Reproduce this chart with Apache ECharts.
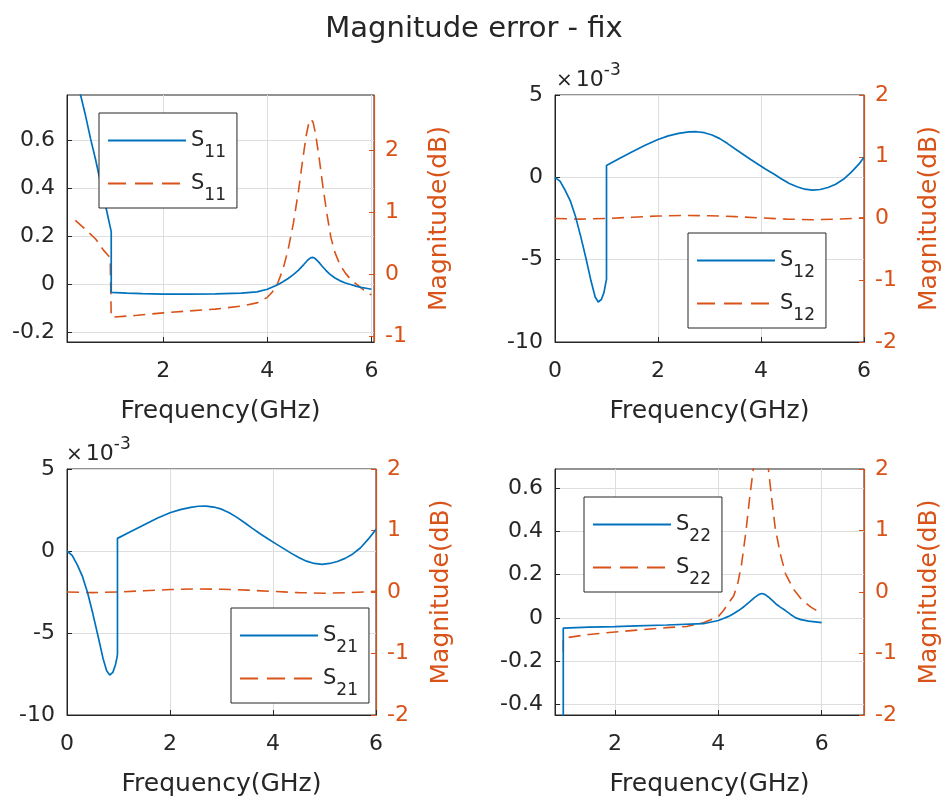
<!DOCTYPE html>
<html>
<head>
<meta charset="utf-8">
<title>Magnitude error - fix</title>
<script src="https://cdn.jsdelivr.net/npm/echarts@6.0.0/dist/echarts.min.js"></script>
<style>
  html, body { margin: 0; padding: 0; background: #fff; }
  #chart { width: 948px; height: 805px; }
</style>
</head>
<body>
<div id="chart"></div>
<script>
// frequency in GHz. "Lin" = linear magnitude error (left axis), "Db" = error in dB (right axis)
// S12 / S21 linear values are in units of 1e-3, as the axis shows

const s11LinFreq = [0.15, 0.3, 0.4, 0.5, 0.6, 0.7, 0.8, 0.9, 0.95, 0.98, 1.0, 1.0, 1.3, 1.6, 2.0, 2.5, 3.0, 3.5, 3.8, 4.0, 4.1, 4.2, 4.3, 4.4, 4.5, 4.6, 4.7, 4.77, 4.83, 4.87, 4.92, 4.98, 5.05, 5.12, 5.2, 5.3, 5.4, 5.5, 5.6, 5.7, 5.8, 5.9, 6.0]
const s11Lin = [1.04, 0.90, 0.80, 0.71, 0.61, 0.52, 0.42, 0.32, 0.27, 0.24, 0.22, -0.033, -0.036, -0.038, -0.040, -0.040, -0.039, -0.036, -0.031, -0.020, -0.011, -0.001, 0.011, 0.025, 0.041, 0.060, 0.083, 0.100, 0.111, 0.113, 0.108, 0.095, 0.077, 0.060, 0.043, 0.027, 0.015, 0.006, 0.000, -0.007, -0.012, -0.016, -0.020]
const s11DbFreq = [0.31, 0.5, 0.7, 0.85, 0.98, 1.0, 1.0, 1.5, 2.0, 2.5, 3.0, 3.5, 3.8, 3.9, 4.0, 4.1, 4.2, 4.3, 4.4, 4.5, 4.6, 4.68, 4.75, 4.8, 4.84, 4.88, 4.93, 5.0, 5.07, 5.15, 5.22, 5.3, 5.4, 5.5, 5.6, 5.7, 5.85, 6.0]
const s11Db = [0.87, 0.73, 0.57, 0.39, 0.27, 0.25, -0.69, -0.66, -0.62, -0.59, -0.56, -0.51, -0.46, -0.42, -0.37, -0.28, -0.14, 0.08, 0.40, 0.82, 1.35, 1.85, 2.25, 2.45, 2.50, 2.45, 2.25, 1.85, 1.40, 0.95, 0.60, 0.35, 0.15, 0.02, -0.08, -0.15, -0.25, -0.33]

const s12LinFreq = [0, 0.1, 0.2, 0.3, 0.4, 0.5, 0.6, 0.7, 0.78, 0.84, 0.9, 0.95, 0.98, 1.0, 1.0, 1.25, 1.5, 1.75, 2.0, 2.2, 2.4, 2.6, 2.75, 2.9, 3.05, 3.2, 3.35, 3.5, 3.65, 3.8, 3.95, 4.1, 4.25, 4.4, 4.55, 4.7, 4.85, 5.0, 5.15, 5.3, 5.45, 5.6, 5.75, 5.9, 6.0]
const s12Lin = [0, -0.25, -0.8, -1.45, -2.4, -3.6, -4.9, -6.3, -7.27, -7.57, -7.42, -7.0, -6.5, -6.2, 0.72, 1.15, 1.56, 1.95, 2.3, 2.52, 2.67, 2.76, 2.77, 2.71, 2.57, 2.35, 2.05, 1.72, 1.4, 1.08, 0.78, 0.48, 0.2, -0.1, -0.37, -0.57, -0.72, -0.78, -0.74, -0.62, -0.42, -0.12, 0.3, 0.8, 1.22]
const s12DbFreq = [0, 0.5, 1.0, 1.5, 2.0, 2.5, 3.0, 3.5, 4.0, 4.5, 5.0, 5.5, 6.0]
const s12Db = [0.0, -0.01, 0.0, 0.02, 0.04, 0.05, 0.045, 0.03, 0.01, -0.01, -0.02, -0.01, 0.01]

const s21LinFreq = [0, 0.1, 0.2, 0.3, 0.4, 0.5, 0.6, 0.7, 0.77, 0.83, 0.89, 0.94, 0.97, 0.98, 0.98, 1.25, 1.5, 1.75, 2.0, 2.2, 2.4, 2.55, 2.7, 2.85, 3.0, 3.15, 3.3, 3.45, 3.6, 3.75, 3.9, 4.05, 4.2, 4.35, 4.5, 4.65, 4.8, 4.95, 5.1, 5.25, 5.4, 5.55, 5.7, 5.85, 6.0]
const s21Lin = [0, -0.27, -0.85, -1.55, -2.55, -3.8, -5.15, -6.55, -7.3, -7.56, -7.4, -6.95, -6.5, -6.3, 0.77, 1.2, 1.6, 2.0, 2.33, 2.52, 2.66, 2.73, 2.74, 2.68, 2.55, 2.33, 2.05, 1.72, 1.38, 1.05, 0.75, 0.45, 0.16, -0.13, -0.4, -0.62, -0.76, -0.81, -0.76, -0.64, -0.45, -0.18, 0.2, 0.72, 1.32]
const s21DbFreq = [0, 0.5, 1.0, 1.5, 2.0, 2.5, 3.0, 3.5, 4.0, 4.5, 5.0, 5.5, 6.0]
const s21Db = [0.0, -0.01, 0.0, 0.02, 0.04, 0.05, 0.045, 0.03, 0.01, -0.01, -0.02, -0.01, 0.01]

const s22LinFreq = [1.0, 1.0, 1.5, 2.0, 2.42, 3.0, 3.71, 4.0, 4.1, 4.2, 4.3, 4.4, 4.5, 4.6, 4.7, 4.78, 4.84, 4.9, 4.97, 5.05, 5.13, 5.2, 5.3, 5.4, 5.5, 5.6, 5.75, 6.0]
const s22Lin = [-1.0, -0.047, -0.043, -0.040, -0.037, -0.033, -0.027, -0.012, -0.003, 0.007, 0.020, 0.035, 0.053, 0.073, 0.094, 0.108, 0.113, 0.109, 0.097, 0.080, 0.062, 0.050, 0.034, 0.016, 0.000, -0.008, -0.015, -0.022]
const s22DbFreq = [1.0, 1.0, 1.5, 2.0, 2.42, 3.0, 3.39, 3.71, 4.0, 4.1, 4.2, 4.3, 4.38, 4.45, 4.53, 4.61, 4.68, 4.75, 4.82, 4.89, 4.97, 5.03, 5.1, 5.2, 5.3, 5.45, 5.62, 5.8, 5.98]
const s22Db = [-0.97, -0.75, -0.69, -0.65, -0.62, -0.58, -0.56, -0.5, -0.4, -0.3, -0.18, -0.06, 0.15, 0.45, 0.95, 1.55, 2.02, 2.35, 2.5, 2.35, 2.0, 1.55, 1.05, 0.62, 0.3, 0.05, -0.13, -0.25, -0.34]

const freqTicks = [2, 4, 6]
const freqTicksFull = [0, 2, 4, 6]
const s11LinTicks = [-0.2, 0, 0.2, 0.4, 0.6]
const milliTicks = [-10, -5, 0, 5]
const s22LinTicks = [-0.4, -0.2, 0, 0.2, 0.4, 0.6]
const s11DbTicks = [-1, 0, 1, 2]
const dbTicks = [-2, -1, 0, 1, 2]

const BLUE = '#0072BD'
const ORANGE = '#D95319'
const INK = '#262626'
const GRID = '#dedede'
const FONT = 'DejaVu Sans'

const zip = (xs, ys) => xs.map((x, i) => [x, ys[i]])

const panels = [
  {
    id: '11', lin: zip(s11LinFreq, s11Lin), db: zip(s11DbFreq, s11Db),
    grid: { left: 67, top: 95, width: 307, height: 247 },
    x: [0.15, 6.05], xTicks: freqTicks,
    yl: [-0.24, 0.79], ylTicks: s11LinTicks,
    yr: [-1.09, 2.89], yrTicks: s11DbTicks,
    legend: { left: 99, top: 113 },
  },
  {
    id: '12', lin: zip(s12LinFreq, s12Lin), db: zip(s12DbFreq, s12Db),
    grid: { left: 555, top: 95, width: 309, height: 247 },
    x: [0, 6], xTicks: freqTicksFull,
    yl: [-10, 5], ylTicks: milliTicks,
    yr: [-2, 2], yrTicks: dbTicks,
    legend: { left: 688, top: 233 },
    exponent: { left: 556, top: 62 },
  },
  {
    id: '21', lin: zip(s21LinFreq, s21Lin), db: zip(s21DbFreq, s21Db),
    grid: { left: 67, top: 469, width: 309, height: 246 },
    x: [0, 6], xTicks: freqTicksFull,
    yl: [-10, 5], ylTicks: milliTicks,
    yr: [-2, 2], yrTicks: dbTicks,
    legend: { left: 231, top: 608 },
    exponent: { left: 66, top: 436 },
  },
  {
    id: '22', lin: zip(s22LinFreq, s22Lin), db: zip(s22DbFreq, s22Db),
    grid: { left: 555, top: 469, width: 309, height: 246 },
    x: [0.84, 6.82], xTicks: freqTicks,
    yl: [-0.45, 0.69], ylTicks: s22LinTicks,
    yr: [-2, 2], yrTicks: dbTicks,
    legend: { left: 584, top: 497 },
  },
]

const tickLabel = { fontSize: 22, fontFamily: FONT }
const hiddenSymbol = { color: 'rgba(0,0,0,0)', borderColor: 'rgba(0,0,0,0)', borderWidth: 0, opacity: 0 }

const grids = []
const xAxes = []
const yAxes = []
const series = []
const legends = []
const graphics = []

panels.forEach((p, i) => {
  grids.push({ ...p.grid, show: true, borderColor: INK, borderWidth: 1, backgroundColor: '#fff', z: 0 })

  xAxes.push({
    type: 'value', gridIndex: i, min: p.x[0], max: p.x[1],
    axisLine: { show: true, onZero: false, lineStyle: { color: INK, width: 1 } },
    axisTick: { show: true, inside: true, length: 5, customValues: p.xTicks, lineStyle: { color: INK } },
    axisLabel: { ...tickLabel, color: INK, margin: 18, customValues: p.xTicks },
    splitLine: { show: true, lineStyle: { color: GRID, width: 1 } },
    name: 'Frequency(GHz)', nameLocation: 'middle', nameGap: 57,
    nameTextStyle: { fontSize: 25, fontFamily: FONT, color: INK },
  })

  yAxes.push({
    type: 'value', gridIndex: i, position: 'left', min: p.yl[0], max: p.yl[1],
    axisLine: { show: true, onZero: false, lineStyle: { color: INK, width: 1 } },
    axisTick: { show: true, inside: true, length: 5, customValues: p.ylTicks, lineStyle: { color: INK } },
    axisLabel: { ...tickLabel, color: INK, margin: 12, customValues: p.ylTicks },
    splitLine: { show: true, lineStyle: { color: GRID, width: 1 } },
  })

  yAxes.push({
    type: 'value', gridIndex: i, position: 'right', min: p.yr[0], max: p.yr[1],
    axisLine: { show: true, onZero: false, lineStyle: { color: ORANGE, width: 1.2 } },
    axisTick: { show: true, inside: true, length: 5, customValues: p.yrTicks, lineStyle: { color: ORANGE } },
    axisLabel: { ...tickLabel, color: ORANGE, margin: 11, customValues: p.yrTicks },
    splitLine: { show: false },
    name: 'Magnitude(dB)', nameLocation: 'middle', nameGap: 53, nameRotate: 90,
    nameTextStyle: { fontSize: 25, fontFamily: FONT, color: ORANGE },
  })

  const linName = 'S' + p.id + ' lin'
  const dbName = 'S' + p.id + ' dB'

  series.push({
    type: 'line', name: linName, xAxisIndex: i, yAxisIndex: 2 * i,
    data: p.lin, symbol: 'none', clip: true, z: 3,
    lineStyle: { color: BLUE, width: 1.7 }, itemStyle: { color: BLUE },
  })
  series.push({
    type: 'line', name: dbName, xAxisIndex: i, yAxisIndex: 2 * i + 1,
    data: p.db, symbol: 'none', clip: true, z: 2,
    lineStyle: { color: ORANGE, width: 1.6, type: [12, 7] }, itemStyle: { color: ORANGE },
  })

  legends.push({
    left: p.legend.left, top: p.legend.top, orient: 'vertical',
    data: [
      { name: linName, lineStyle: { type: 'solid' }, itemStyle: hiddenSymbol },
      { name: dbName, lineStyle: { type: [18, 9] }, itemStyle: hiddenSymbol },
    ],
    selectedMode: false,
    itemWidth: 78, itemHeight: 4, itemGap: 2,
    padding: [7, 11, 4, 8],
    borderColor: INK, borderWidth: 1, backgroundColor: '#fff',
    itemStyle: hiddenSymbol,
    formatter: () => '{s|S}{sub|' + p.id + '}',
    textStyle: {
      fontSize: 21, fontFamily: FONT, color: INK,
      rich: {
        s: { fontSize: 21, lineHeight: 22, fontFamily: FONT, color: INK },
        sub: { fontSize: 17, lineHeight: 18, fontFamily: FONT, color: INK, padding: [24, 0, 0, 0] },
      },
    },
  })

  if (p.exponent) {
    graphics.push({
      type: 'text', left: p.exponent.left, top: p.exponent.top, z: 10,
      style: {
        text: '{x|×}{n|10}{e|-3}',
        fill: INK,
        rich: {
          x: { fontSize: 20, fontFamily: FONT, fill: INK, padding: [0, 3, 0, 0] },
          n: { fontSize: 22, fontFamily: FONT, fill: INK },
          e: { fontSize: 17, fontFamily: FONT, fill: INK, padding: [0, 0, 20, 0] },
        },
      },
    })
  }
})

const chart = echarts.init(document.getElementById('chart'), null, { renderer: 'canvas' })
chart.setOption({
  animation: false,
  backgroundColor: '#fff',
  textStyle: { fontFamily: FONT },
  title: {
    text: 'Magnitude error - fix', left: 'center', top: 10,
    textStyle: { fontSize: 29, fontWeight: 'normal', fontFamily: FONT, color: INK },
  },
  grid: grids,
  xAxis: xAxes,
  yAxis: yAxes,
  legend: legends,
  series: series,
  graphic: graphics,
})
</script>
</body>
</html>
